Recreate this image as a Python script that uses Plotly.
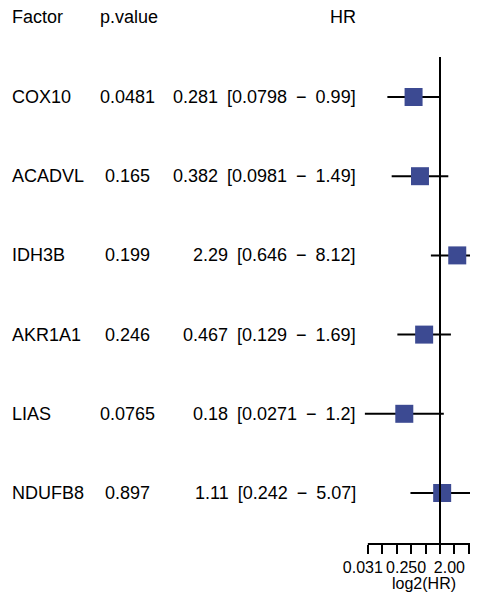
import math
import plotly.graph_objects as go

# ---- data ----
factors = ["COX10", "ACADVL", "IDH3B", "AKR1A1", "LIAS", "NDUFB8"]
pvalues = ["0.0481", "0.165", "0.199", "0.246", "0.0765", "0.897"]
hr = [0.281, 0.382, 2.29, 0.467, 0.18, 1.11]
hr_low = [0.0798, 0.0981, 0.646, 0.129, 0.0271, 0.242]
hr_high = [0.99, 1.49, 8.12, 1.69, 1.2, 5.07]
tick_vals = [-5, -4, -3, -2, -1, 0, 1, 2]
tick_text = ["0.031", "", "", "0.250", "", "", "2.00", ""]
headers = ["Factor", "p.value", "HR"]
axis_title = "log2(HR)"

# page body has an 8px margin; the figure is sized to fill the rest
W, H = 470, 584
FONT = "Liberation Sans, Arial, Helvetica, sans-serif"
NARROW = "Liberation Sans Narrow, Arial Narrow, Liberation Sans, sans-serif"
rows = list(range(len(factors)))
lhr = [math.log2(v) for v in hr]
llo = [math.log2(v) for v in hr_low]
lhi = [math.log2(v) for v in hr_high]

ROW0, ROWSTEP = 89, 79.2       # pixel y of first row, spacing
PLOT_BOTTOM = 536
ZERO_PX, PX_PER = 432, 14.43
sp = "\u2002"

fig = go.Figure()
fig.add_trace(go.Scatter(
    x=lhr, y=rows, mode="markers",
    marker=dict(symbol="square", size=18, color="#3C4A92", line=dict(width=0)),
    error_x=dict(type="data", symmetric=False,
                 array=[h - m for h, m in zip(lhi, lhr)],
                 arrayminus=[m - l for m, l in zip(lhr, llo)],
                 width=0, thickness=2, color="black"),
    cliponaxis=False, showlegend=False, hoverinfo="skip"))

ann = []
def add_text(txt, xpx, y, anchor, size=18, yref="y"):
    ann.append(dict(text=txt, x=xpx / W, xref="paper", y=y, yref=yref,
                    xanchor=anchor, yanchor="middle", showarrow=False,
                    font=dict(family=FONT, size=size, color="black")))

head_y = (9 - ROW0) / ROWSTEP
add_text(headers[0], 2, head_y, "left")
add_text(headers[1], 121, head_y, "center")
add_text(headers[2], 350, head_y, "right")
for i, f in enumerate(factors):
    add_text(f, 2, i, "left")
    add_text(pvalues[i], 120, i, "center")
    add_text(f"{hr[i]}{sp}[{hr_low[i]}{sp}\u2212{sp}{hr_high[i]}]", 350, i, "right")
add_text(axis_title, 416, (PLOT_BOTTOM - 575) / PLOT_BOTTOM, "center", size=16, yref="paper")

fig.update_layout(
    width=W, height=H, margin=dict(l=0, r=0, t=0, b=H - PLOT_BOTTOM),
    paper_bgcolor="white", plot_bgcolor="white",
    xaxis=dict(range=[-ZERO_PX / PX_PER, (W - ZERO_PX) / PX_PER],
               tickvals=tick_vals, ticktext=tick_text,
               ticks="outside", ticklen=9, tickwidth=2, tickcolor="black",
               showgrid=False, zeroline=False, showline=False,
               ticklabelshift=-5,
               tickfont=dict(family=NARROW, size=16, color="black")),
    yaxis=dict(range=[(PLOT_BOTTOM - ROW0) / ROWSTEP, -ROW0 / ROWSTEP], visible=False,
               showgrid=False, zeroline=False),
    annotations=ann,
    shapes=[
        dict(type="line", xref="x", yref="y", x0=0, x1=0,
             y0=(49 - ROW0) / ROWSTEP, y1=(PLOT_BOTTOM - ROW0) / ROWSTEP,
             line=dict(color="black", width=2)),
        dict(type="line", xref="x", yref="paper", x0=-5, x1=3.1,
             y0=0, y1=0, line=dict(color="black", width=2)),
    ],
)
fig.write_html("out.html")
